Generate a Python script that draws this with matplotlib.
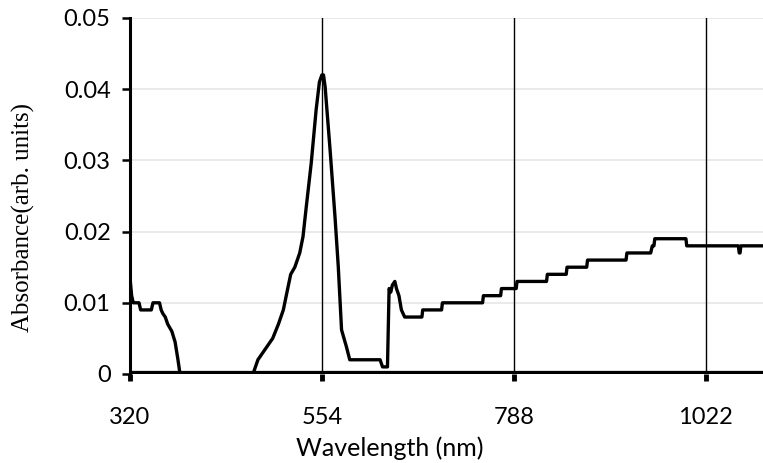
import numpy as np
import matplotlib.pyplot as plt

# spectrum (nm, absorbance)
wavelength = [320, 322, 324, 331, 333, 346, 348, 356, 358, 360, 363, 366, 371, 375, 378.5, 381,
              470, 476, 482, 488, 494, 501, 507, 512, 516, 521, 527, 531, 535, 541, 547, 551, 554,
              556, 558, 564, 570, 574, 578, 584, 588,
              625, 628, 634, 636, 638, 640, 643, 645, 648, 651, 655, 676, 677, 700, 701,
              750, 751, 772, 773, 791, 792, 828, 829, 852, 853, 877, 878, 925, 926, 955, 957,
              959, 960, 998, 999, 1062, 1063, 1064, 1065, 1092]
absorb = [0.0135, 0.011, 0.010, 0.010, 0.009, 0.009, 0.010, 0.010, 0.009, 0.0085, 0.008, 0.007, 0.006, 0.0045, 0.002, 0.0,
          0.0, 0.002, 0.003, 0.004, 0.005, 0.007, 0.009, 0.0118, 0.014, 0.015, 0.017, 0.0193, 0.0235, 0.0296, 0.0371, 0.041, 0.042,
          0.042, 0.0403, 0.0315, 0.0221, 0.0151, 0.0062, 0.0038, 0.002,
          0.002, 0.001, 0.001, 0.012, 0.0115, 0.0125, 0.013, 0.012, 0.011, 0.009, 0.008, 0.008, 0.009, 0.009, 0.010,
          0.010, 0.011, 0.011, 0.012, 0.012, 0.013, 0.013, 0.014, 0.014, 0.015, 0.015, 0.016, 0.016, 0.017, 0.017, 0.018,
          0.018, 0.019, 0.019, 0.018, 0.018, 0.017, 0.017, 0.018, 0.018]

xticks = [320, 554, 788, 1022]
yticks = [0, 0.01, 0.02, 0.03, 0.04, 0.05]
ylabels = ['0', '0.01', '0.02', '0.03', '0.04', '0.05']

fig = plt.figure(figsize=(7.63, 4.63), dpi=100)
ax = fig.add_axes([130/763, 1-374/463, 1-130/763, (374-18)/463])

for y in yticks[1:]:
    ax.axhline(y, color='#e6e6e6', lw=1.2, zorder=0)
for x in xticks[1:]:
    ax.axvline(x, color='black', lw=1.0, zorder=1)

ax.plot(wavelength, absorb, color='black', lw=2.4, zorder=3)
ax.axhline(0, color='black', lw=4.5, zorder=4)

ax.set_xlim(320, 1092)
ax.set_ylim(0, 0.05)
ax.set_xticks(xticks)
ax.set_yticks(yticks)
ax.set_yticklabels(ylabels)

for s in ['top', 'right', 'bottom']:
    ax.spines[s].set_visible(False)
ax.spines['left'].set_linewidth(2.2)
ax.spines['left'].set_zorder(5)

ax.tick_params(axis='x', direction='out', length=5, width=3.5, pad=19, labelsize=17)
ax.tick_params(axis='y', direction='out', length=6, width=1.8, pad=8, labelsize=17)
for lab in ax.get_xticklabels() + ax.get_yticklabels():
    lab.set_family('Lato')

ax.set_xlabel('Wavelength (nm)', family='Lato', fontsize=18)
ax.set_ylabel('Absorbance(arb. units)', family='Liberation Serif', fontsize=18)
ax.xaxis.set_label_coords(0.41, -0.175)
ax.yaxis.set_label_coords(-0.15, 0.44)

fig.savefig('out.png', dpi=100)
